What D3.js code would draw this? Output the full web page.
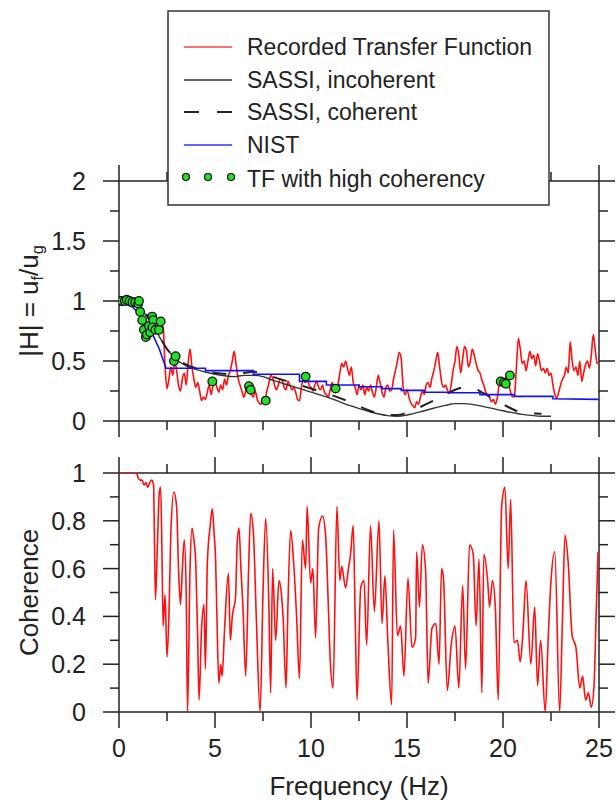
<!DOCTYPE html>
<html><head><meta charset="utf-8">
<script src="https://cdn.jsdelivr.net/npm/d3@7"></script>
<style>body{margin:0;background:#fff}svg{display:block}text{font-family:"Liberation Sans",Arial,sans-serif;fill:#222}</style>
</head><body><svg id="c" width="616" height="805"></svg>
<script>
// ---------- data ----------
const tfFreq=[0,0.2,0.4,0.6,0.8,1.0,1.1,1.2,1.3,1.4,1.5,1.6,1.7,1.8,1.9,2.0,2.1,2.2,2.3,2.4,2.5,2.6,2.7,2.8,2.9,3.0,3.1,3.2,3.3,3.4,3.5,3.6,3.7,3.8,3.9,4.0,4.1,4.2,4.3,4.4,4.5,4.6,4.7,4.8,4.9,5.0,5.1,5.2,5.3,5.4,5.5,5.6,5.7,5.8,5.9,6.0,6.1,6.2,6.3,6.4,6.5,6.6,6.7,6.8,6.9,7.0,7.1,7.2,7.3,7.4,7.5,7.6,7.7,7.8,7.9,8.0,8.1,8.2,8.3,8.4,8.5,8.6,8.7,8.8,8.9,9.0,9.1,9.2,9.3,9.4,9.5,9.6,9.7,9.8,9.9,10.0,10.1,10.2,10.3,10.4,10.5,10.6,10.7,10.8,10.9,11.0,11.1,11.2,11.3,11.4,11.5,11.6,11.7,11.8,11.9,12.0,12.1,12.2,12.3,12.4,12.5,12.6,12.7,12.8,12.9,13.0,13.1,13.2,13.3,13.4,13.5,13.6,13.7,13.8,13.9,14.0,14.1,14.2,14.3,14.4,14.5,14.6,14.7,14.8,14.9,15.0,15.1,15.2,15.3,15.4,15.5,15.6,15.7,15.8,15.9,16.0,16.1,16.2,16.3,16.4,16.5,16.6,16.7,16.8,16.9,17.0,17.1,17.2,17.3,17.4,17.5,17.6,17.7,17.8,17.9,18.0,18.1,18.2,18.3,18.4,18.5,18.6,18.7,18.8,18.9,19.0,19.1,19.2,19.3,19.4,19.5,19.6,19.7,19.8,19.9,20.0,20.1,20.2,20.3,20.4,20.5,20.6,20.7,20.8,20.9,21.0,21.1,21.2,21.3,21.4,21.5,21.6,21.7,21.8,21.9,22.0,22.1,22.2,22.3,22.4,22.5,22.6,22.7,22.8,22.9,23.0,23.1,23.2,23.3,23.4,23.5,23.6,23.7,23.8,23.9,24.0,24.1,24.2,24.3,24.4,24.5,24.6,24.7,24.8,24.9,25.0];
const tfValue=[1.0,1.0,1.01,1.0,0.99,0.98,0.95,0.88,0.8,0.72,0.75,0.8,0.86,0.82,0.75,0.78,0.82,0.8,0.78,0.45,0.27,0.35,0.45,0.38,0.5,0.42,0.3,0.25,0.35,0.4,0.3,0.48,0.6,0.45,0.35,0.28,0.32,0.25,0.17,0.2,0.18,0.24,0.3,0.22,0.3,0.33,0.28,0.24,0.3,0.26,0.35,0.3,0.38,0.42,0.5,0.58,0.47,0.36,0.3,0.25,0.2,0.25,0.3,0.27,0.22,0.2,0.25,0.18,0.15,0.14,0.19,0.17,0.25,0.31,0.38,0.36,0.3,0.26,0.3,0.35,0.34,0.28,0.26,0.33,0.3,0.26,0.28,0.24,0.18,0.17,0.28,0.35,0.32,0.36,0.3,0.28,0.25,0.3,0.33,0.28,0.26,0.3,0.24,0.22,0.2,0.26,0.32,0.28,0.25,0.3,0.4,0.48,0.45,0.5,0.44,0.38,0.45,0.32,0.28,0.22,0.3,0.26,0.3,0.22,0.28,0.25,0.3,0.24,0.2,0.28,0.38,0.32,0.24,0.2,0.28,0.3,0.25,0.26,0.35,0.42,0.5,0.57,0.52,0.28,0.22,0.26,0.2,0.15,0.13,0.11,0.16,0.14,0.2,0.25,0.22,0.3,0.32,0.28,0.36,0.42,0.5,0.57,0.45,0.33,0.28,0.3,0.26,0.23,0.3,0.42,0.5,0.62,0.55,0.4,0.52,0.62,0.58,0.45,0.5,0.6,0.55,0.48,0.42,0.4,0.34,0.3,0.24,0.22,0.2,0.16,0.18,0.14,0.19,0.3,0.35,0.3,0.34,0.38,0.3,0.24,0.2,0.22,0.45,0.69,0.6,0.48,0.5,0.42,0.5,0.58,0.52,0.55,0.46,0.56,0.5,0.42,0.44,0.4,0.44,0.38,0.4,0.3,0.22,0.19,0.24,0.3,0.35,0.38,0.45,0.4,0.66,0.5,0.42,0.45,0.38,0.5,0.33,0.4,0.47,0.5,0.44,0.55,0.72,0.6,0.48,0.5];

const sassiIncFreq=[0,0.5,1,1.5,2,2.5,3,3.5,4,5,6,6.5,7,7.5,8,9,10,11,12,13,14,14.5,15,16,17,17.5,18,19,20,21,22,22.5];
const sassiIncValue=[1.0,0.99,0.95,0.86,0.73,0.6,0.51,0.46,0.43,0.39,0.37,0.38,0.38,0.37,0.34,0.29,0.24,0.19,0.13,0.08,0.045,0.04,0.05,0.09,0.13,0.145,0.145,0.12,0.085,0.055,0.04,0.04];

const sassiCohFreq=[0,0.5,1,1.5,2,2.5,3,3.5,4,5,6,6.5,7,7.5,8,9,10,11,12,13,14,14.5,15,16,17,17.5,18,18.5,19,20,21,22];
const sassiCohValue=[1.0,0.99,0.95,0.87,0.74,0.6,0.52,0.47,0.44,0.4,0.39,0.4,0.41,0.4,0.37,0.32,0.27,0.22,0.16,0.09,0.05,0.05,0.07,0.14,0.22,0.26,0.28,0.27,0.23,0.14,0.07,0.06];

const nistFreq=[0,0.7,1.2,1.7,2.1,2.45,4.5,4.5,7.0,7.0,9.4,9.4,10.8,10.8,12.5,12.5,13.7,13.7,14.7,14.7,15.9,15.9,17.1,17.1,18.8,18.8,20.6,20.6,22.6,22.6,25];
const nistValue=[1.0,0.95,0.87,0.74,0.6,0.44,0.44,0.42,0.42,0.39,0.39,0.33,0.33,0.3,0.3,0.285,0.285,0.27,0.27,0.255,0.255,0.24,0.24,0.235,0.235,0.22,0.22,0.205,0.205,0.185,0.18];

const hcFreq=[0,0.15,0.3,0.4,0.55,0.7,0.85,1.0,1.04,1.1,1.21,1.3,1.4,1.45,1.56,1.62,1.73,1.78,1.74,1.9,2.08,2.17,2.86,2.95,4.86,6.77,6.86,7.64,9.72,11.28,19.88,20.05,20.15,20.36];
const hcValue=[1.0,1.0,1.0,1.01,1.0,0.99,0.99,0.98,1.0,0.91,0.84,0.76,0.7,0.72,0.79,0.74,0.87,0.84,0.78,0.76,0.76,0.83,0.5,0.54,0.33,0.29,0.26,0.17,0.37,0.27,0.33,0.32,0.31,0.38];

const cohFreq=[0,0.5,0.9,1.0,1.1,1.2,1.3,1.4,1.5,1.6,1.7,1.8,1.85,1.9,2.0,2.1,2.17,2.25,2.3,2.4,2.5,2.6,2.7,2.86,3.0,3.1,3.2,3.3,3.4,3.5,3.57,3.7,3.8,3.9,4.0,4.1,4.17,4.3,4.43,4.5,4.6,4.75,4.86,4.95,5.03,5.1,5.2,5.3,5.37,5.5,5.7,5.8,5.9,6.07,6.15,6.25,6.35,6.45,6.6,6.75,6.86,7.0,7.15,7.35,7.5,7.64,7.8,7.9,8.0,8.16,8.33,8.45,8.55,8.7,8.8,8.94,9.1,9.25,9.4,9.55,9.72,9.8,9.98,10.1,10.24,10.4,10.6,10.76,10.9,11.0,11.15,11.35,11.5,11.6,11.8,11.95,12.06,12.2,12.3,12.4,12.59,12.76,12.9,13.1,13.3,13.54,13.7,13.85,14.0,14.2,14.3,14.5,14.67,14.84,15.05,15.26,15.45,15.5,15.65,15.8,15.97,16.1,16.3,16.5,16.67,16.8,16.9,17.1,17.3,17.5,17.7,17.9,18.05,18.26,18.45,18.6,18.75,18.9,19.0,19.2,19.3,19.45,19.6,19.75,19.93,20.1,20.27,20.4,20.57,20.75,20.9,21.05,21.2,21.45,21.65,21.8,21.96,22.2,22.35,22.5,22.7,22.95,23.1,23.23,23.4,23.6,23.8,24.0,24.15,24.3,24.45,24.6,24.74,24.85,24.95];
const cohValue=[1.0,1.0,1.0,0.98,0.97,0.97,0.95,0.96,0.94,0.96,0.97,0.95,0.7,0.47,0.7,0.92,0.94,0.6,0.36,0.49,0.23,0.4,0.75,0.92,0.86,0.6,0.45,0.6,0.72,0.5,0.0,0.6,0.77,0.72,0.62,0.3,0.05,0.35,0.45,0.18,0.62,0.78,0.85,0.75,0.64,0.4,0.12,0.2,0.15,0.35,0.58,0.3,0.4,0.48,0.7,0.77,0.6,0.45,0.15,0.6,0.83,0.75,0.4,0.0,0.5,0.81,0.47,0.08,0.6,0.3,0.55,0.5,0.39,0.1,0.45,0.76,0.62,0.4,0.14,0.72,0.6,0.86,0.54,0.6,0.31,0.77,0.82,0.74,0.45,0.22,0.1,0.86,0.55,0.61,0.52,0.6,0.66,0.78,0.4,0.05,0.52,0.55,0.28,0.78,0.42,0.8,0.37,0.57,0.3,0.03,0.76,0.32,0.36,0.15,0.56,0.27,0.31,0.67,0.44,0.7,0.59,0.12,0.35,0.37,0.2,0.6,0.56,0.09,0.28,0.36,0.1,0.53,0.18,0.7,0.66,0.36,0.64,0.08,0.66,0.55,0.44,0.55,0.44,0.05,0.86,0.94,0.6,0.89,0.29,0.3,0.21,0.35,0.55,0.2,0.44,0.11,0.3,0.0,0.3,0.55,0.67,0.0,0.4,0.74,0.62,0.32,0.27,0.1,0.15,0.05,0.08,0.02,0.11,0.4,0.67];

const xTicks=[0,5,10,15,20,25];
const topTicks=[0,0.5,1,1.5,2];
const topTickLabels=["0","0.5","1","1.5","2"];
const botTicks=[0,0.2,0.4,0.6,0.8,1];
const botTickLabels=["0","0.2","0.4","0.6","0.8","1"];
const legendLabels=["Recorded Transfer Function","SASSI, incoherent","SASSI, coherent","NIST","TF with high coherency"];

// ---------- layout ----------
const svg=d3.select("#c");
const L=119,R=599,T1=181,B1=421,T2=473,B2=712;
const x=d3.scaleLinear().domain([0,25]).range([L,R]);
const y1=d3.scaleLinear().domain([0,2]).range([B1,T1]);
const y2=d3.scaleLinear().domain([0,1]).range([B2,T2]);
const AX="#222", MAJ=16, MIN=9, FS=25;

const defs=svg.append("defs");
defs.append("clipPath").attr("id","cp1").append("rect").attr("x",L).attr("y",T1-5).attr("width",R-L).attr("height",B1-T1+5);
defs.append("clipPath").attr("id","cp2").append("rect").attr("x",L).attr("y",T2).attr("width",R-L).attr("height",B2-T2);

function zip(f,v){return f.map((d,i)=>[d,v[i]]);}

// frames and ticks
function frame(yS,T,B,ticksMaj,ticksMin){
  const g=svg.append("g").attr("stroke",AX).attr("stroke-width",1.5).attr("fill","none");
  g.append("line").attr("x1",L).attr("x2",R).attr("y1",T).attr("y2",T);
  g.append("line").attr("x1",L).attr("x2",R).attr("y1",B).attr("y2",B);
  g.append("line").attr("x1",L).attr("x2",L).attr("y1",T).attr("y2",B);
  g.append("line").attr("x1",R).attr("x2",R).attr("y1",T).attr("y2",B);
  const xMin=d3.range(2.5,25,5);
  xTicks.forEach(t=>{g.append("line").attr("x1",x(t)).attr("x2",x(t)).attr("y1",T-MAJ).attr("y2",T);
    g.append("line").attr("x1",x(t)).attr("x2",x(t)).attr("y1",B).attr("y2",B+MAJ);});
  xMin.forEach(t=>{g.append("line").attr("x1",x(t)).attr("x2",x(t)).attr("y1",T-MIN).attr("y2",T);
    g.append("line").attr("x1",x(t)).attr("x2",x(t)).attr("y1",B).attr("y2",B+MIN);});
  ticksMaj.forEach(t=>{g.append("line").attr("x1",L-MAJ).attr("x2",L).attr("y1",yS(t)).attr("y2",yS(t));
    g.append("line").attr("x1",R).attr("x2",R+MAJ).attr("y1",yS(t)).attr("y2",yS(t));});
  ticksMin.forEach(t=>{g.append("line").attr("x1",L-MIN).attr("x2",L).attr("y1",yS(t)).attr("y2",yS(t));
    g.append("line").attr("x1",R).attr("x2",R+MIN).attr("y1",yS(t)).attr("y2",yS(t));});
}
frame(y1,T1,B1,topTicks,[0.25,0.75,1.25,1.75]);
frame(y2,T2,B2,botTicks,[0.1,0.3,0.5,0.7,0.9]);

// tick labels
topTicks.forEach((t,i)=>svg.append("text").attr("x",86).attr("y",y1(t)).attr("dy","0.36em").attr("text-anchor","end").attr("font-size",FS).text(topTickLabels[i]));
botTicks.forEach((t,i)=>svg.append("text").attr("x",86).attr("y",y2(t)).attr("dy","0.36em").attr("text-anchor","end").attr("font-size",FS).text(botTickLabels[i]));
xTicks.forEach(t=>svg.append("text").attr("x",x(t)).attr("y",757).attr("text-anchor","middle").attr("font-size",FS).text(String(t)));
svg.append("text").attr("x",(L+R)/2).attr("y",795).attr("text-anchor","middle").attr("font-size",FS+1).text("Frequency (Hz)");
svg.append("text").attr("transform",`translate(38,${(T2+B2)/2}) rotate(-90)`).attr("text-anchor","middle").attr("font-size",FS+1).text("Coherence");
const yl=svg.append("text").attr("transform",`translate(38,${(T1+B1)/2}) rotate(-90)`).attr("text-anchor","middle").attr("font-size",FS+1);
yl.append("tspan").text("|H| = u");
yl.append("tspan").attr("font-size",FS*0.65).attr("dy",5).text("f");
yl.append("tspan").attr("dy",-5).text("/u");
yl.append("tspan").attr("font-size",FS*0.65).attr("dy",5).text("g");

// series
const line1=d3.line().x(d=>x(d[0])).y(d=>y1(d[1]));
const line2=d3.line().x(d=>x(d[0])).y(d=>y2(d[1])).curve(d3.curveMonotoneX);
const p1=svg.append("g").attr("clip-path","url(#cp1)");
p1.append("path").datum(zip(tfFreq,tfValue)).attr("d",line1.curve(d3.curveMonotoneX)).attr("fill","none").attr("stroke","#ff1010").attr("stroke-width",1.6).attr("stroke-linejoin","round");
p1.append("path").datum(zip(sassiIncFreq,sassiIncValue)).attr("d",line1.curve(d3.curveMonotoneX)).attr("fill","none").attr("stroke","#333").attr("stroke-width",1.4);
p1.append("path").datum(zip(sassiCohFreq,sassiCohValue)).attr("d",line1.curve(d3.curveMonotoneX)).attr("fill","none").attr("stroke","#222").attr("stroke-width",2).attr("stroke-dasharray","14,17");
line1.curve(d3.curveLinear);
p1.append("path").datum(zip(nistFreq,nistValue)).attr("d",line1).attr("fill","none").attr("stroke","#1010ff").attr("stroke-width",1.6);
p1.selectAll("circle").data(zip(hcFreq,hcValue)).enter().append("circle").attr("cx",d=>x(d[0])).attr("cy",d=>y1(d[1])).attr("r",4.3).attr("fill","#22e022").attr("stroke","#111").attr("stroke-width",1.3);
svg.append("g").attr("clip-path","url(#cp2)").append("path").datum(zip(cohFreq,cohValue)).attr("d",line2).attr("fill","none").attr("stroke","#ff1010").attr("stroke-width",1.6).attr("stroke-linejoin","round");

// legend
const lg=svg.append("g");
lg.append("rect").attr("x",168).attr("y",11).attr("width",381).attr("height",194).attr("fill","#fff").attr("stroke","#333").attr("stroke-width",1.5);
const rows=[47,80,112,145,179];
const styles=[{c:"#ff4040",w:1.5},{c:"#333",w:1.5},{c:"#222",w:2,d:"15,18"},{c:"#3030ff",w:1.5}];
styles.forEach((s,i)=>{const l=lg.append("line").attr("x1",184).attr("x2",232).attr("y1",rows[i]).attr("y2",rows[i]).attr("stroke",s.c).attr("stroke-width",s.w); if(s.d) l.attr("stroke-dasharray",s.d);});
[186,208,231].forEach(cx=>lg.append("circle").attr("cx",cx).attr("cy",rows[4]-2).attr("r",3.5).attr("fill","#22e022").attr("stroke","#111").attr("stroke-width",1.2));
legendLabels.forEach((t,i)=>lg.append("text").attr("x",247).attr("y",rows[i]).attr("dy","0.36em").attr("font-size",23).text(t));
</script></body></html>
